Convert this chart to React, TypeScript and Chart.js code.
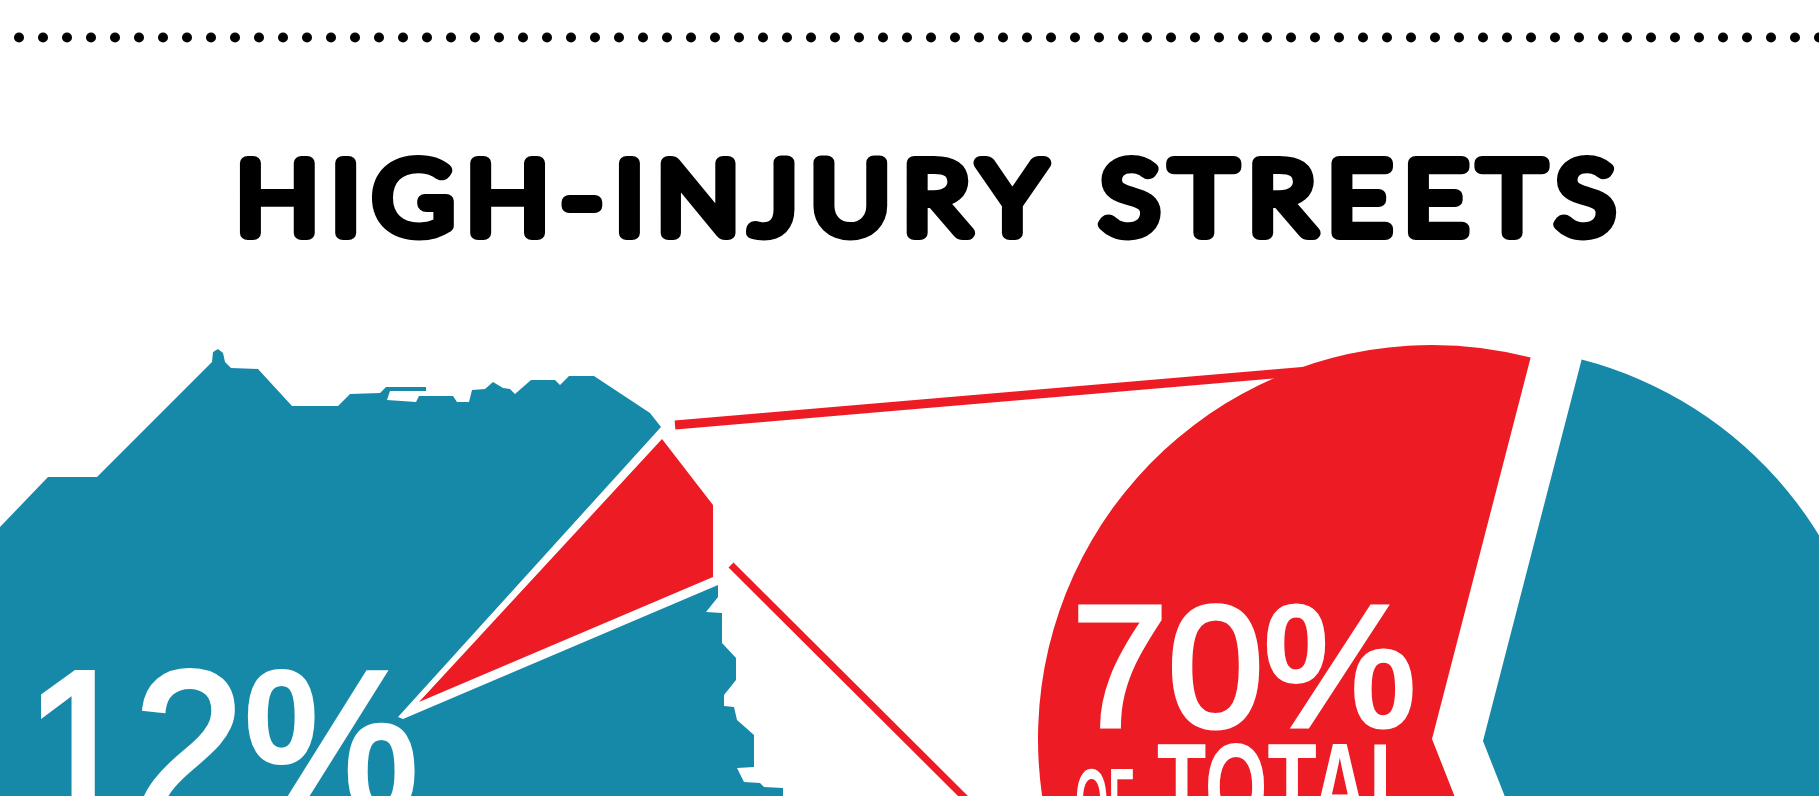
import React, { useEffect, useRef } from "react";
import { Chart, registerables } from "chart.js";

Chart.register(...registerables);

const BLUE = "#1689A9";
const RED = "#ED1C24";

// Pie: share of the circle as drawn in the picture (red high-injury, blue the rest)
const pieLabels = ["High-injury streets", "Other streets"];
const pieValues = [60, 40];

// City silhouette outline
const cityX = [0, 48, 97, 212, 213, 218, 223, 225, 231, 258, 292, 338, 350, 380, 386, 426, 426, 390, 387, 416, 419, 453, 457, 469, 472, 485, 493, 503, 510, 515, 531, 555, 560, 569, 594, 650, 661, 398, 403, 718, 718, 706, 722, 722, 736, 736, 724, 724, 734, 737, 754, 754, 737, 744, 760, 764, 783, 783, 0];
const cityY = [527, 477, 477, 362, 352, 349, 353, 362, 368, 369, 406, 406, 394, 393, 387, 387, 391, 391, 400, 402, 396, 396, 402, 402, 390, 389, 382, 388, 389, 394, 380, 380, 385, 376, 376, 413, 427, 717, 719, 585, 597, 612, 613, 643, 658, 680, 695, 706, 707, 720, 735, 767, 768, 782, 783, 787, 788, 800, 800];

// Red wedge of the city holding the high-injury streets
const wedgeX = [662, 713, 713, 419];
const wedgeY = [439, 505, 577, 702];

// Thin white street line inside the city
const streetX = [707, 660];
const streetY = [612, 655];

// Connectors from the wedge to the pie
const upperLinkX = [675, 1320];
const upperLinkY = [425, 370];
const lowerLinkX = [731, 970];
const lowerLinkY = [565, 803];

// Dotted rule at the top
const ruleX = [-5, 1830];
const ruleY = [37.5, 37.5];

const titleText = "HIGH-INJURY STREETS";
const cityShareText = "12%";
const pieShareText = "70%";
const pieOfText = "OF";
const pieTotalText = "TOTAL";

type Label = {
  text: string; x: number; y: number; font: string; color: string;
  align?: CanvasTextAlign; scaleX?: number; spacing?: number; stroke?: number; join?: CanvasLineJoin;
};

const textPlugin = (labels: Label[]) => ({
  id: "textLabels",
  afterDraw(chart: any) {
    const ctx = chart.ctx as CanvasRenderingContext2D;
    for (const l of labels) {
      ctx.save();
      ctx.translate(l.x, l.y);
      ctx.scale(l.scaleX ?? 1, 1);
      ctx.font = l.font;
      ctx.textAlign = l.align ?? "left";
      ctx.textBaseline = "alphabetic";
      (ctx as any).letterSpacing = `${l.spacing ?? 0}px`;
      ctx.fillStyle = l.color;
      ctx.fillText(l.text, 0, 0);
      if (l.stroke) {
        ctx.strokeStyle = l.color;
        ctx.lineWidth = l.stroke;
        ctx.lineJoin = l.join ?? "round";
        ctx.lineCap = "round";
        ctx.strokeText(l.text, 0, 0);
      }
      ctx.restore();
    }
  },
});

const xy = (xs: number[], ys: number[]) => xs.map((x, i) => ({ x, y: ys[i] }));

const RED_LEFT = 982;
const RED_TOP = 289;
const BLUE_LEFT = 1033;
const BLUE_TOP = 291;

const makePie = (canvas: HTMLCanvasElement, colors: string[], labels: Label[]) =>
  new Chart(canvas, {
    type: "pie",
    data: {
      labels: pieLabels,
      datasets: [{ data: pieValues, backgroundColor: colors, borderWidth: 0 }],
    },
    options: {
      animation: false,
      responsive: false,
      rotation: 158.5,
      radius: 394,
      layout: { padding: 0 },
      plugins: { legend: { display: false }, tooltip: { enabled: false } },
    },
    plugins: [textPlugin(labels)],
  } as any);

export default function App() {
  const mapRef = useRef<HTMLCanvasElement>(null);
  const redRef = useRef<HTMLCanvasElement>(null);
  const blueRef = useRef<HTMLCanvasElement>(null);

  useEffect(() => {
    document.body.style.margin = "0";
    document.body.style.background = "#fff";
    const line = { showLine: true, pointRadius: 0, tension: 0 };
    const mapChart = new Chart(mapRef.current!, {
      type: "scatter",
      data: {
        datasets: [
          { ...line, label: "City", data: xy(cityX, cityY), fill: "shape", backgroundColor: BLUE, borderWidth: 0 },
          { ...line, label: "High-injury area", data: xy(wedgeX, wedgeY), fill: "shape", backgroundColor: RED, borderWidth: 0 },
          { ...line, label: "Street", data: xy(streetX, streetY), borderColor: "#fff", borderWidth: 2 },
          { ...line, label: "Upper link", data: xy(upperLinkX, upperLinkY), borderColor: RED, borderWidth: 9 },
          { ...line, label: "Lower link", data: xy(lowerLinkX, lowerLinkY), borderColor: RED, borderWidth: 7 },
          { ...line, label: "Rule", data: xy(ruleX, ruleY), borderColor: "#000", borderWidth: 10, borderDash: [0, 24], borderCapStyle: "round" },
        ],
      },
      options: {
        animation: false,
        responsive: false,
        layout: { padding: 0 },
        scales: {
          x: { type: "linear", min: 0, max: 1819, display: false },
          y: { type: "linear", min: 0, max: 796, reverse: true, display: false },
        },
        plugins: { legend: { display: false }, tooltip: { enabled: false } },
      },
      plugins: [
        textPlugin([
          { text: titleText, x: 932, y: 233, font: "300 99px Lato", color: "#000", align: "center", scaleX: 1.1, spacing: 12, stroke: 14 },
          { text: cityShareText, x: 25, y: 815, font: "400 206px 'Liberation Sans'", color: "#fff", scaleX: 0.955, stroke: 6, join: "miter" },
        ]),
      ],
    } as any);

    const redChart = makePie(redRef.current!, [RED, "rgba(0,0,0,0)"], [
      { text: pieShareText, x: 1072 - RED_LEFT, y: 726 - RED_TOP, font: "400 172px 'Liberation Sans'", color: "#fff", scaleX: 1.0, stroke: 5, join: "miter" },
      { text: pieOfText, x: 1075 - RED_LEFT, y: 832 - RED_TOP, font: "700 91px 'Liberation Sans'", color: "#fff", scaleX: 0.47 },
      { text: pieTotalText, x: 1157 - RED_LEFT, y: 830 - RED_TOP, font: "700 125px 'Liberation Sans'", color: "#fff", scaleX: 0.645 },
    ]);
    const blueChart = makePie(blueRef.current!, ["rgba(0,0,0,0)", BLUE], []);

    return () => {
      mapChart.destroy();
      redChart.destroy();
      blueChart.destroy();
    };
  }, []);

  return (
    <div style={{ position: "relative", width: 1819, height: 796, overflow: "hidden", background: "#fff" }}>
      <canvas ref={mapRef} width={1819} height={796} style={{ position: "absolute", left: 0, top: 0 }} />
      <canvas ref={redRef} width={900} height={900} style={{ position: "absolute", left: RED_LEFT, top: RED_TOP }} />
      <canvas ref={blueRef} width={900} height={900} style={{ position: "absolute", left: BLUE_LEFT, top: BLUE_TOP }} />
    </div>
  );
}
